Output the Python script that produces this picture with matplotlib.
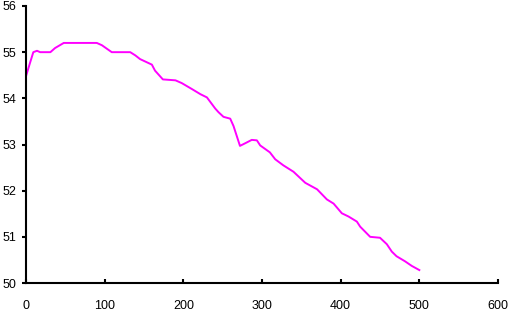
#!/usr/bin/env python3
"""Recreate the magenta decline curve (x 0-600, y 50-56)."""

import matplotlib
matplotlib.use("Agg")
import matplotlib.pyplot as plt

plt.rcParams['font.family'] = ['Liberation Sans', 'DejaVu Sans']
plt.rcParams['font.size'] = 9

# Data
x_values = [0, 5.5, 9.3, 14, 18, 31, 37, 48, 90, 96.5, 109, 132.5, 139, 145,
            160, 164, 174, 190, 198, 211, 221.7, 230, 240.5, 244.7, 251, 253,
            259.6, 263.8, 272, 279, 287, 293.5, 297.7, 310, 316.8, 327, 340,
            355, 370, 382.5, 391, 401.5, 410, 420.6, 424.8, 437.5, 450, 458.7,
            465, 471, 481.8, 490.4, 500]
y_values = [54.48, 54.79, 55.0, 55.03, 55.0, 55.0, 55.09, 55.2, 55.2, 55.15,
            55.0, 55.0, 54.93, 54.85, 54.73, 54.6, 54.41, 54.39, 54.33, 54.2,
            54.09, 54.02, 53.78, 53.7, 53.6, 53.59, 53.56, 53.4, 52.97, 53.03,
            53.1, 53.09, 52.98, 52.83, 52.68, 52.55, 52.41, 52.17, 52.03, 51.81,
            51.72, 51.51, 51.44, 51.33, 51.22, 51.0, 50.98, 50.84, 50.68, 50.58,
            50.47, 50.37, 50.28]
x_ticks = [0, 100, 200, 300, 400, 500, 600]
y_ticks = [50, 51, 52, 53, 54, 55, 56]

fig = plt.figure(figsize=(5.11, 3.15), dpi=100)
ax = fig.add_axes([26 / 511, (315 - 283) / 315, (498 - 26) / 511, (283 - 6) / 315])

ax.plot(x_values, y_values, color="#ff00ff", linewidth=1.4)

ax.set_xlim(0, 600)
ax.set_ylim(50, 56)
ax.set_xticks(x_ticks)
ax.set_yticks(y_ticks)

for side in ["top", "right"]:
    ax.spines[side].set_visible(False)
for side in ["left", "bottom"]:
    ax.spines[side].set_linewidth(1.5)

ax.tick_params(axis="x", direction="in", length=3, width=1.5, pad=12)
ax.tick_params(axis="y", direction="out", length=3, width=1.5, pad=4)

fig.savefig("out.png", dpi=100)
